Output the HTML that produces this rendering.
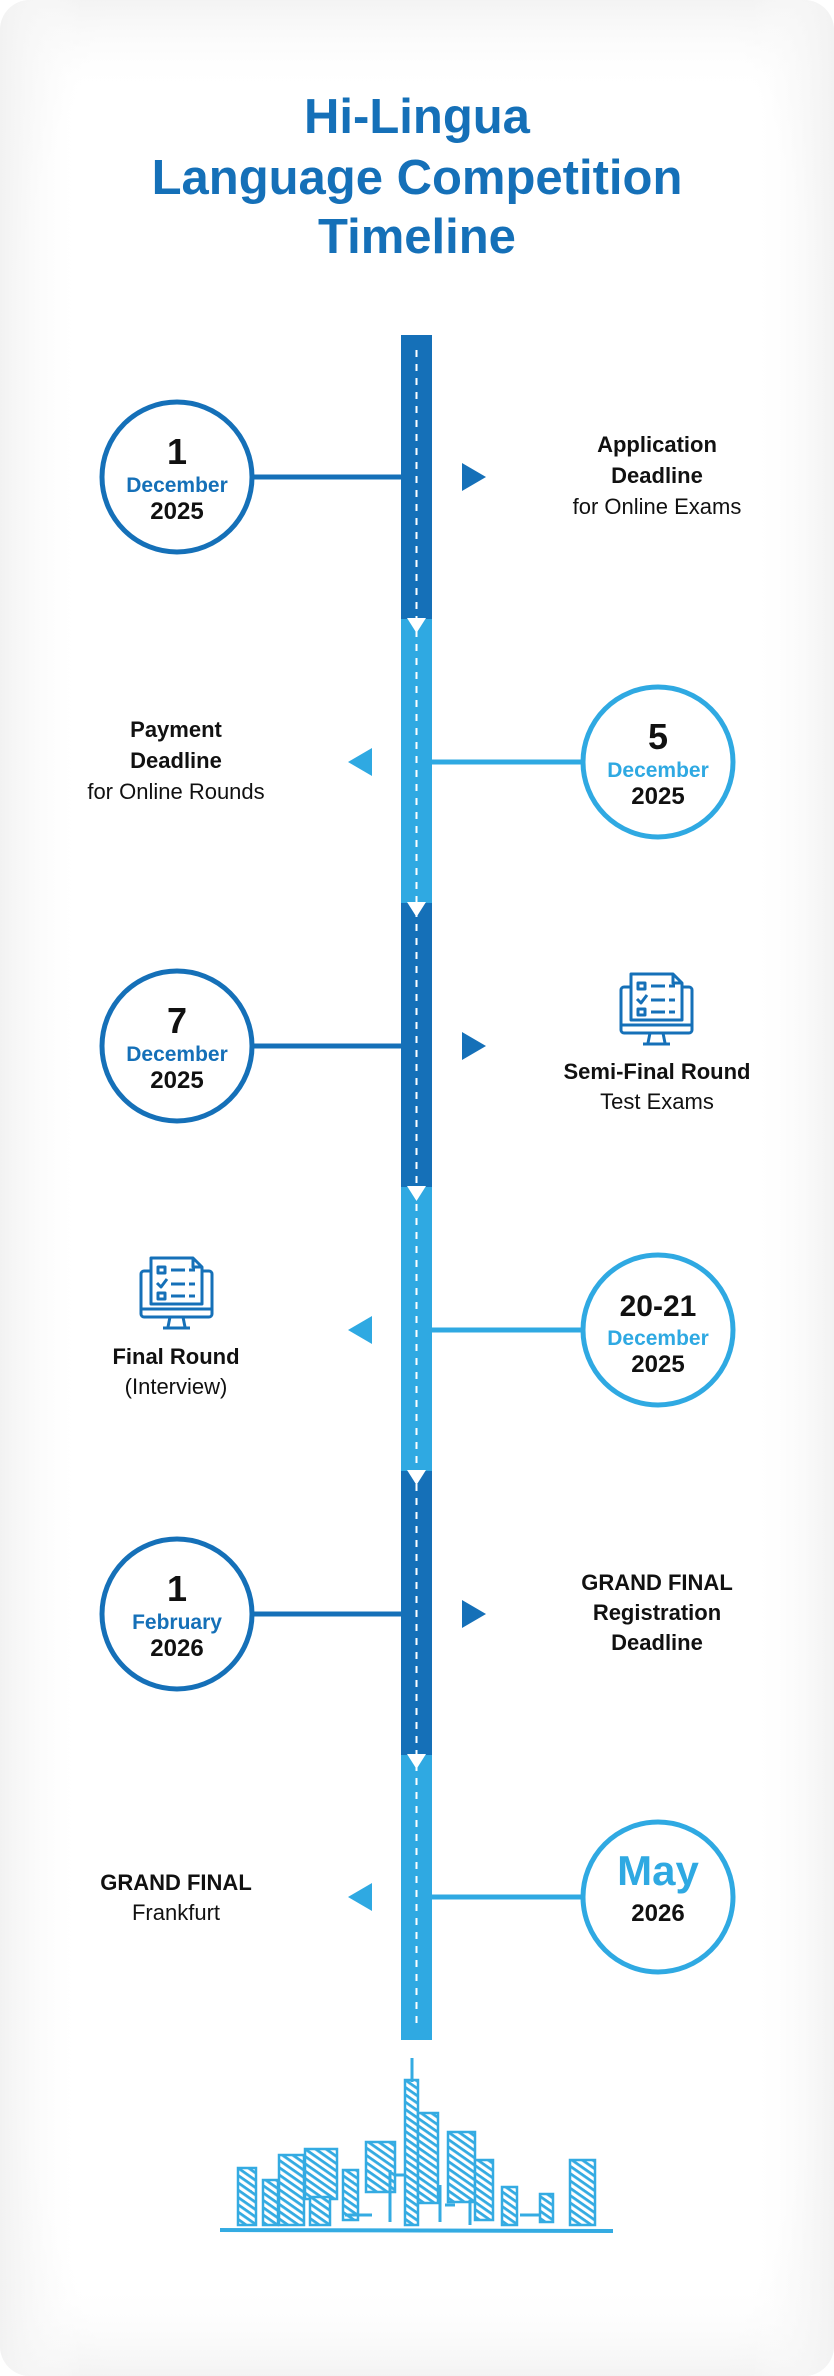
<!DOCTYPE html>
<html><head><meta charset="utf-8"><style>
html,body{margin:0;padding:0;width:834px;height:2376px;background:#fff;overflow:hidden}
svg{display:block}
text{font-family:"Liberation Sans",sans-serif}
</style></head><body>
<svg width="834" height="2376" viewBox="0 0 834 2376" xmlns="http://www.w3.org/2000/svg">
<defs>
<radialGradient id="bg" cx="50%" cy="50%" r="75%">
<stop offset="0.82" stop-color="#ffffff"/><stop offset="1" stop-color="#f2f2f2"/>
</radialGradient>
<linearGradient id="bgv" x1="0" y1="0" x2="0" y2="1">
<stop offset="0" stop-color="#f3f3f3"/><stop offset="0.04" stop-color="#ffffff" stop-opacity="0"/><stop offset="0.96" stop-color="#ffffff" stop-opacity="0"/><stop offset="1" stop-color="#f3f3f3"/>
</linearGradient>
<linearGradient id="bgh" x1="0" y1="0" x2="1" y2="0">
<stop offset="0" stop-color="#f2f2f2"/><stop offset="0.1" stop-color="#ffffff" stop-opacity="0"/><stop offset="0.9" stop-color="#ffffff" stop-opacity="0"/><stop offset="1" stop-color="#f2f2f2"/>
</linearGradient>
<pattern id="hatch" width="6" height="6" patternUnits="userSpaceOnUse" patternTransform="rotate(35)">
<rect width="6" height="6" fill="#fff"/><rect width="6" height="2.8" fill="#34abe2"/>
</pattern>
<g id="icon" fill="none" stroke="#1570b8" stroke-width="3" stroke-linejoin="round">
<rect x="0" y="14" width="71" height="46" rx="3"/>
<line x1="0" y1="52" x2="71" y2="52"/>
<path d="M29 60 L27 70 M42 60 L44 70 M22 71 H49"/>
<path d="M10 1 H52 L61 10 V47 H10 Z" fill="#fff"/>
<path d="M52 1 V10 H61"/>
<rect x="17" y="10" width="7" height="6"/>
<path d="M16 26 L20 30 L26 22"/>
<rect x="17" y="36" width="7" height="6"/>
<path d="M30 13 H44 M48 13 H54 M30 27 H44 M48 27 H54 M30 39 H44 M48 39 H54"/>
</g>
</defs>
<rect x="0" y="0" width="834" height="2376" rx="30" fill="url(#bg)"/>
<rect x="0" y="0" width="834" height="2376" rx="30" fill="url(#bgv)"/>
<rect x="0" y="0" width="834" height="2376" rx="30" fill="url(#bgh)"/>

<g fill="#1570b8" font-weight="bold" font-size="49" text-anchor="middle">
<text x="417" y="133">Hi-Lingua</text>
<text x="417" y="194">Language Competition</text>
<text x="417" y="253">Timeline</text>
</g>

<rect x="401" y="335" width="31" height="284" fill="#1570b8"/>
<rect x="401" y="619" width="31" height="284" fill="#2fa9e2"/>
<rect x="401" y="903" width="31" height="284" fill="#1570b8"/>
<rect x="401" y="1187" width="31" height="284" fill="#2fa9e2"/>
<rect x="401" y="1471" width="31" height="284" fill="#1570b8"/>
<rect x="401" y="1755" width="31" height="285" fill="#2fa9e2"/>
<line x1="416.5" y1="350" x2="416.5" y2="2030" stroke="#fff" stroke-width="2" stroke-dasharray="7,7"/>
<g fill="#fff">
<path d="M407 618 H426 L416.5 633 Z"/><path d="M407 902 H426 L416.5 917 Z"/>
<path d="M407 1186 H426 L416.5 1201 Z"/><path d="M407 1470 H426 L416.5 1485 Z"/>
<path d="M407 1754 H426 L416.5 1769 Z"/>
</g>

<g fill="#fff" stroke-width="5">
<line x1="254" y1="477" x2="401" y2="477" stroke="#1570b8"/>
<circle cx="177" cy="477" r="75" stroke="#1570b8"/>
<line x1="432" y1="762" x2="581" y2="762" stroke="#2fa9e2"/>
<circle cx="658" cy="762" r="75" stroke="#2fa9e2"/>
<line x1="254" y1="1046" x2="401" y2="1046" stroke="#1570b8"/>
<circle cx="177" cy="1046" r="75" stroke="#1570b8"/>
<line x1="432" y1="1330" x2="581" y2="1330" stroke="#2fa9e2"/>
<circle cx="658" cy="1330" r="75" stroke="#2fa9e2"/>
<line x1="254" y1="1614" x2="401" y2="1614" stroke="#1570b8"/>
<circle cx="177" cy="1614" r="75" stroke="#1570b8"/>
<line x1="432" y1="1897" x2="581" y2="1897" stroke="#2fa9e2"/>
<circle cx="658" cy="1897" r="75" stroke="#2fa9e2"/>
</g>

<path d="M462 463 L486 477 L462 491 Z" fill="#1570b8"/>
<path d="M372 748 L348 762 L372 776 Z" fill="#2fa9e2"/>
<path d="M462 1032 L486 1046 L462 1060 Z" fill="#1570b8"/>
<path d="M372 1316 L348 1330 L372 1344 Z" fill="#2fa9e2"/>
<path d="M462 1600 L486 1614 L462 1628 Z" fill="#1570b8"/>
<path d="M372 1883 L348 1897 L372 1911 Z" fill="#2fa9e2"/>

<g text-anchor="middle" font-weight="bold">
<text x="177" y="464" font-size="36" fill="#111">1</text>
<text x="177" y="492" font-size="21" fill="#1570b8">December</text>
<text x="177" y="519" font-size="24" fill="#111">2025</text>

<text x="658" y="749" font-size="36" fill="#111">5</text>
<text x="658" y="777" font-size="21" fill="#2fa9e2">December</text>
<text x="658" y="804" font-size="24" fill="#111">2025</text>

<text x="177" y="1033" font-size="36" fill="#111">7</text>
<text x="177" y="1061" font-size="21" fill="#1570b8">December</text>
<text x="177" y="1088" font-size="24" fill="#111">2025</text>

<text x="658" y="1316" font-size="30" fill="#111">20-21</text>
<text x="658" y="1345" font-size="21" fill="#2fa9e2">December</text>
<text x="658" y="1372" font-size="24" fill="#111">2025</text>

<text x="177" y="1601" font-size="36" fill="#111">1</text>
<text x="177" y="1629" font-size="21" fill="#1570b8">February</text>
<text x="177" y="1656" font-size="24" fill="#111">2026</text>

<text x="658" y="1885" font-size="42" fill="#2fa9e2">May</text>
<text x="658" y="1921" font-size="24" fill="#111">2026</text>
</g>

<g text-anchor="middle" font-size="22" fill="#111">
<text x="657" y="452" font-weight="bold">Application</text>
<text x="657" y="483" font-weight="bold">Deadline</text>
<text x="657" y="514">for Online Exams</text>

<text x="176" y="737" font-weight="bold">Payment</text>
<text x="176" y="768" font-weight="bold">Deadline</text>
<text x="176" y="799">for Online Rounds</text>

<text x="657" y="1079" font-weight="bold">Semi-Final Round</text>
<text x="657" y="1109">Test Exams</text>

<text x="176" y="1364" font-weight="bold">Final Round</text>
<text x="176" y="1394">(Interview)</text>

<text x="657" y="1590" font-weight="bold">GRAND FINAL</text>
<text x="657" y="1620" font-weight="bold">Registration</text>
<text x="657" y="1650" font-weight="bold">Deadline</text>

<text x="176" y="1890" font-weight="bold">GRAND FINAL</text>
<text x="176" y="1920">Frankfurt</text>
</g>

<use href="#icon" x="621" y="973"/>
<use href="#icon" x="141" y="1257"/>

<g stroke="#34abe2" stroke-width="2.5" fill="url(#hatch)">
<rect x="238" y="2168" width="18" height="57"/>
<rect x="263" y="2180" width="15" height="45"/>
<rect x="279" y="2155" width="25" height="70"/>
<rect x="305" y="2149" width="32" height="50"/>
<rect x="310" y="2197" width="20" height="28"/>
<rect x="343" y="2170" width="15" height="50"/>
<rect x="366" y="2142" width="29" height="50"/>
<rect x="405" y="2080" width="13" height="145"/>
<rect x="418" y="2113" width="20" height="90"/>
<rect x="448" y="2132" width="27" height="70"/>
<rect x="475" y="2160" width="18" height="60"/>
<rect x="502" y="2187" width="15" height="38"/>
<rect x="540" y="2194" width="13" height="28"/>
<rect x="570" y="2160" width="25" height="65"/>
</g>
<g stroke="#34abe2" stroke-width="3" fill="none">
<line x1="412" y1="2058" x2="412" y2="2082"/>
<path d="M390 2170 V2222 M395 2175 H405 M440 2185 V2222 M445 2205 H455 M470 2200 V2225 M520 2215 H540 M345 2215 H372"/>
<line x1="220" y1="2230" x2="613" y2="2231" stroke-width="4"/>
</g>
</svg>
</body></html>
